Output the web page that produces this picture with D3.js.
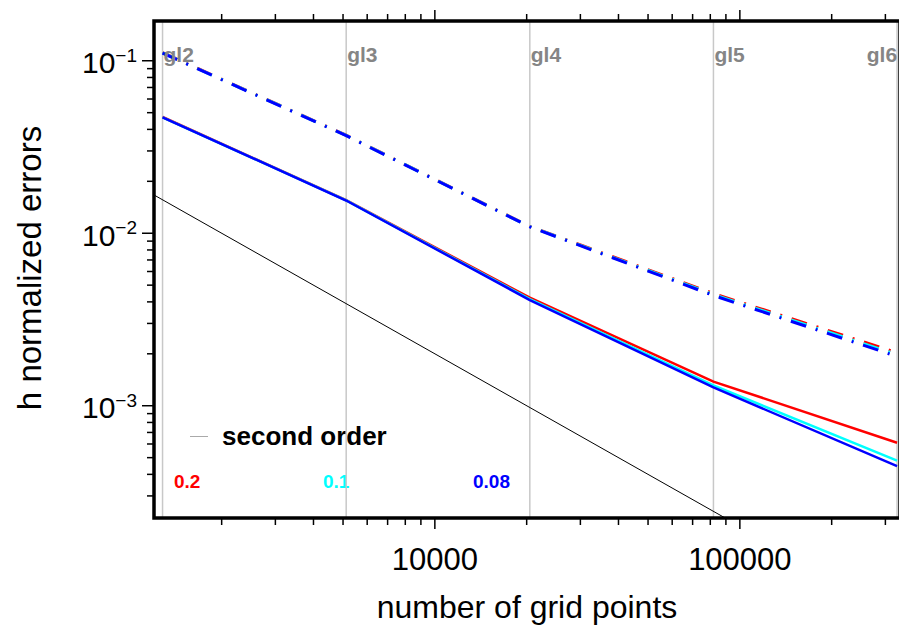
<!DOCTYPE html>
<html>
<head>
<meta charset="utf-8">
<script src="https://cdn.jsdelivr.net/npm/d3@7"></script>
<style>
  body { margin: 0; background: #fff; }
  text { font-family: "Liberation Sans", Arial, Helvetica, sans-serif; }
</style>
</head>
<body>
<div id="chart"></div>
<script>
// grid levels (number of grid points)
var gridLevels = ["gl2", "gl3", "gl4", "gl5", "gl6"];
var gridPoints = [1280, 5120, 20480, 81920, 327680];

// solid lines, one per parameter value
var err_02 = [0.0472, 0.01555, 0.00423, 0.00138, 0.00061];
var err_01 = [0.0470, 0.01550, 0.00415, 0.00131, 0.00048];
var err_008 = [0.0470, 0.01548, 0.00410, 0.001276, 0.000447];

// dash-dot lines
var dd_02 = [0.1115, 0.0370, 0.01095, 0.00447, 0.00203];
var dd_01 = [0.1110, 0.0369, 0.01092, 0.00441, 0.00198];
var dd_008 = [0.1108, 0.0368, 0.01090, 0.004355, 0.00193];

// second order reference line
var refN = [1000, 400000];
var refErr = [0.02, 0.00005];

var seriesNames = ["0.2", "0.1", "0.08"];
var seriesColors = ["#ff0000", "#00ffff", "#0000ff"];

var W = 899, H = 629;
var pLeft = 154, pRight = 900, pTop = 21, pBottom = 518;

var svg = d3.select("#chart").append("svg")
  .attr("width", W).attr("height", H);

svg.append("rect").attr("width", W).attr("height", H).attr("fill", "#fff");

var x = d3.scaleLog().domain([1200, 335000]).range([pLeft, pRight]);
var y = d3.scaleLog().domain([2.234e-4, 0.17]).range([pBottom, pTop]);

svg.append("clipPath").attr("id", "plotclip")
  .append("rect")
  .attr("x", pLeft).attr("y", pTop)
  .attr("width", pRight - pLeft).attr("height", pBottom - pTop);

// legend-ish labels (drawn under gridlines)
svg.append("line")
  .attr("x1", 190).attr("x2", 208).attr("y1", 436.5).attr("y2", 436.5)
  .attr("stroke", "#aaa").attr("stroke-width", 1);
svg.append("text")
  .attr("x", 222).attr("y", 445)
  .attr("font-size", 26).attr("font-weight", "bold")
  .text("second order");

var labelX = [174, 323, 473];
seriesNames.forEach(function(n, i) {
  svg.append("text")
    .attr("x", labelX[i]).attr("y", 488)
    .attr("font-size", 19).attr("font-weight", "bold")
    .attr("fill", seriesColors[i])
    .text(n);
});

// vertical grid-level lines
var plot = svg.append("g").attr("clip-path", "url(#plotclip)");
plot.selectAll("line.gl")
  .data(gridPoints)
  .enter().append("line")
  .attr("class", "gl")
  .attr("x1", d => x(d)).attr("x2", d => x(d))
  .attr("y1", pTop).attr("y2", pBottom)
  .attr("stroke", "#c8c8c8").attr("stroke-width", 1.5);

svg.selectAll("text.gl")
  .data(gridLevels)
  .enter().append("text")
  .attr("class", "gl")
  .attr("x", (d, i) => i == gridLevels.length - 1 ? x(gridPoints[i]) : x(gridPoints[i]) + 1)
  .attr("y", 62)
  .attr("text-anchor", (d, i) => i == gridLevels.length - 1 ? "end" : "start")
  .attr("font-size", 21).attr("font-weight", "bold")
  .attr("fill", "#858585")
  .text(d => d);

var line = d3.line()
  .x(d => x(d[0]))
  .y(d => y(d[1]));

// reference line
plot.append("path")
  .datum(refN.map((n, i) => [n, refErr[i]]))
  .attr("d", line)
  .attr("fill", "none").attr("stroke", "#000").attr("stroke-width", 1);

var solid = [err_02, err_01, err_008];
var dashdot = [dd_02, dd_01, dd_008];

dashdot.forEach(function(s, i) {
  plot.append("path")
    .datum(gridPoints.map((n, j) => [n, s[j]]))
    .attr("d", line)
    .attr("fill", "none")
    .attr("stroke", seriesColors[i])
    .attr("stroke-width", 3)
    .attr("stroke-dasharray", "16,10,2,10");
});

solid.forEach(function(s, i) {
  plot.append("path")
    .datum(gridPoints.map((n, j) => [n, s[j]]))
    .attr("d", line)
    .attr("fill", "none")
    .attr("stroke", seriesColors[i])
    .attr("stroke-width", 2.5);
});

// ticks
function logTicks(scale) {
  var d = scale.domain(), out = [];
  var lo = Math.floor(Math.log10(d[0])), hi = Math.ceil(Math.log10(d[1]));
  for (var e = lo; e <= hi; e++) {
    for (var m = 1; m < 10; m++) {
      var v = m * Math.pow(10, e);
      if (v >= d[0] && v <= d[1]) out.push({v: v, major: m == 1});
    }
  }
  return out;
}

var xt = logTicks(x), yt = logTicks(y);
var axes = svg.append("g").attr("stroke", "#000").attr("stroke-width", 1.5);

// bottom and top ticks
xt.forEach(function(t) {
  var len = t.major ? 11 : 7;
  axes.append("line").attr("x1", x(t.v)).attr("x2", x(t.v))
    .attr("y1", pBottom).attr("y2", pBottom + len);
  axes.append("line").attr("x1", x(t.v)).attr("x2", x(t.v))
    .attr("y1", pTop).attr("y2", pTop - len);
});
// left ticks
yt.forEach(function(t) {
  var len = t.major ? 12 : 7;
  axes.append("line").attr("x1", pLeft).attr("x2", pLeft - len)
    .attr("y1", y(t.v)).attr("y2", y(t.v));
});

// frame
svg.append("rect")
  .attr("x", pLeft).attr("y", pTop)
  .attr("width", pRight - pLeft).attr("height", pBottom - pTop)
  .attr("fill", "none").attr("stroke", "#000").attr("stroke-width", 3.5);

// tick labels
xt.filter(t => t.major).forEach(function(t) {
  svg.append("text")
    .attr("x", x(t.v)).attr("y", 570)
    .attr("text-anchor", "middle")
    .attr("font-size", 31)
    .text(d3.format("d")(t.v));
});

yt.filter(t => t.major).forEach(function(t) {
  var e = Math.round(Math.log10(t.v));
  var tx = svg.append("text")
    .attr("x", 137).attr("y", y(t.v) + 12.6)
    .attr("text-anchor", "end")
    .attr("font-size", 30);
  tx.append("tspan").text("10");
  tx.append("tspan").attr("dy", -11.6).attr("font-size", 19).text("\u2212" + Math.abs(e));
});

// axis titles
svg.append("text")
  .attr("x", 527).attr("y", 618)
  .attr("text-anchor", "middle")
  .attr("font-size", 32)
  .text("number of grid points");

svg.append("text")
  .attr("transform", "translate(41,268) rotate(-90)")
  .attr("text-anchor", "middle")
  .attr("font-size", 33)
  .text("h normalized errors");
</script>
</body>
</html>
